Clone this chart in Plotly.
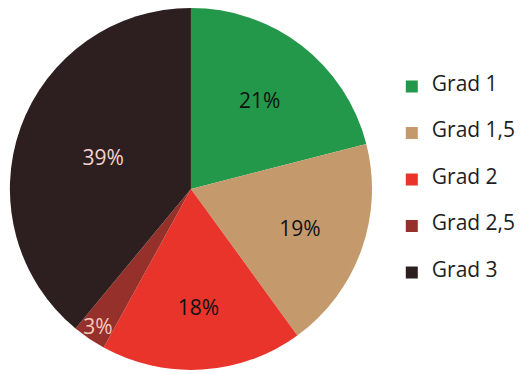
import plotly.graph_objects as go

grades = ["Grad 1", "Grad 1,5", "Grad 2", "Grad 2,5", "Grad 3"]
shares = [21, 19, 18, 3, 39]
colors = ["#24984a", "#c49a6c", "#e8342b", "#96302a", "#2d1f1f"]
text_colors = ["#111111", "#111111", "#111111", "#f3c9bd", "#f3d3cc"]

# blank lines around each name space the legend entries apart;
# the name itself is drawn in a larger span than the base legend font
legend_labels = [
    "<br><span style='font-size:21px'>" + g + "</span><br> " for g in grades
]

fig = go.Figure(
    go.Pie(
        labels=legend_labels,
        values=shares,
        sort=False,
        direction="clockwise",
        rotation=0,
        marker=dict(colors=colors, line=dict(width=0)),
        texttemplate="%{percent:.0%}",
        textposition="inside",
        insidetextorientation="horizontal",
        insidetextfont=dict(color=text_colors, size=21, family="Open Sans"),
        domain=dict(x=[0.019, 0.714], y=[0.008, 0.979]),
        hoverinfo="skip",
    )
)

fig.update_layout(
    width=521,
    height=373,
    margin=dict(l=0, r=0, t=0, b=0, autoexpand=False),
    paper_bgcolor="white",
    plot_bgcolor="white",
    font=dict(family="Open Sans", color="#222222"),
    uniformtext=dict(minsize=19, mode="show"),
    legend=dict(
        x=0.752,
        y=0.518,
        xanchor="left",
        yanchor="middle",
        font=dict(size=11.15, color="#1e1e1e"),
        valign="middle",
        itemwidth=30,
        bgcolor="rgba(0,0,0,0)",
    ),
)

fig.write_html("out.html")
